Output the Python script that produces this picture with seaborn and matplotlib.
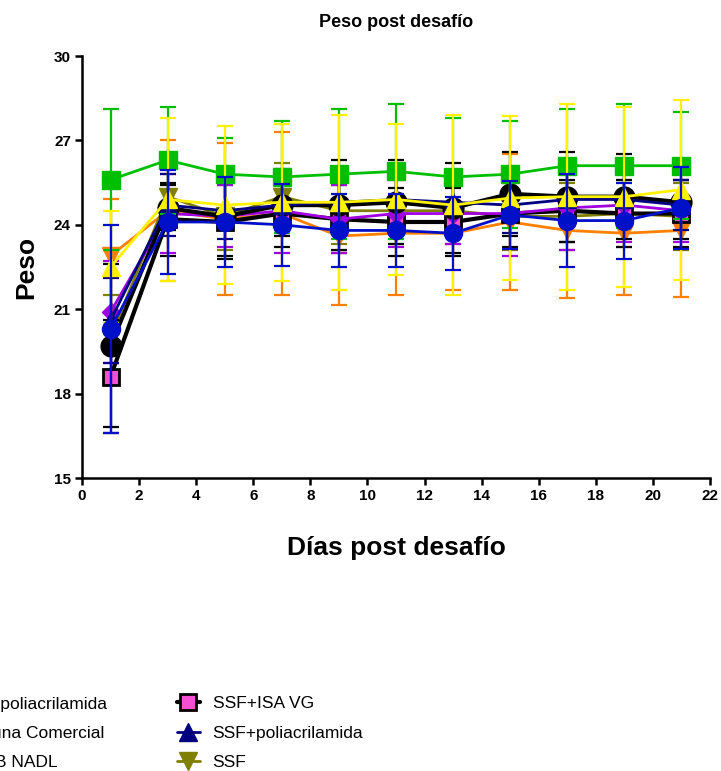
import numpy as np
import pandas as pd
import seaborn as sns
import matplotlib
matplotlib.use("Agg")
import matplotlib.pyplot as plt

sns.set_theme(style="ticks")
plt.rcParams['font.family'] = ['Liberation Sans', 'DejaVu Sans']
plt.rcParams['text.color'] = 'black'
plt.rcParams['axes.labelcolor'] = 'black'
plt.rcParams['xtick.color'] = 'black'
plt.rcParams['ytick.color'] = 'black'

# ---------------- data ----------------
days = [1, 3, 5, 7, 9, 11, 13, 15, 17, 19, 21]

labels = ["ISA+poliacrilamida", "Vacuna Comercial", "ISA B NADL", "ISA VG", "Control",
          "SSF+ISA VG", "SSF+poliacrilamida", "SSF", "Sin desafío"]

green_mean = [25.6, 26.3, 25.8, 25.7, 25.8, 25.9, 25.7, 25.8, 26.1, 26.1, 26.1]
green_sd = [2.5, 1.9, 1.3, 2.0, 2.3, 2.4, 2.1, 1.9, 2.0, 2.2, 1.9]

yellow_mean = [22.5, 24.9, 24.7, 24.8, 24.8, 24.9, 24.7, 24.95, 25.0, 25.0, 25.25]
yellow_sd = [2.0, 2.9, 2.8, 2.8, 3.1, 2.7, 3.2, 2.9, 3.3, 3.2, 3.2]

orange_mean = [22.9, 24.5, 24.2, 24.4, 23.6, 23.7, 23.7, 24.1, 23.8, 23.7, 23.8]
orange_sd = [2.0, 2.5, 2.7, 2.9, 2.45, 2.2, 2.0, 2.4, 2.4, 2.2, 2.35]

purple_mean = [20.9, 24.4, 24.3, 24.5, 24.2, 24.4, 24.4, 24.4, 24.6, 24.7, 24.5]
purple_sd = [1.8, 1.4, 1.1, 1.5, 1.2, 1.2, 1.1, 1.5, 1.5, 1.3, 1.1]

blue_mean = [20.3, 24.1, 24.1, 24.0, 23.8, 23.8, 23.7, 24.35, 24.15, 24.15, 24.6]
blue_sd = [3.7, 1.85, 1.6, 1.45, 1.3, 1.3, 1.3, 1.2, 1.65, 1.35, 1.45]

pink_mean = [18.6, 24.2, 24.1, 24.4, 24.2, 24.1, 24.1, 24.4, 24.5, 24.4, 24.4]
pink_sd = [2.0, 1.3, 1.3, 1.2, 1.2, 1.2, 1.2, 1.2, 1.1, 1.2, 1.2]

navy_mean = [20.6, 24.7, 24.5, 24.7, 24.8, 24.9, 24.8, 24.7, 24.9, 24.9, 24.7]
navy_sd = [1.5, 1.1, 1.0, 1.0, 1.0, 1.0, 1.0, 1.0, 0.9, 0.9, 0.9]

olive_mean = [20.0, 25.0, 24.3, 25.0, 24.5, 24.5, 24.5, 24.3, 24.3, 24.4, 24.3]
olive_sd = [1.5, 1.2, 1.2, 1.2, 1.2, 1.2, 1.2, 1.2, 1.2, 1.2, 1.2]

black_mean = [19.7, 24.6, 24.3, 24.7, 24.7, 24.8, 24.6, 25.1, 25.0, 25.0, 24.8]
black_sd = [2.9, 0.8, 1.4, 1.1, 1.6, 1.5, 1.6, 1.5, 1.6, 1.5, 1.3]

means = [green_mean, yellow_mean, orange_mean, purple_mean, blue_mean,
         pink_mean, navy_mean, olive_mean, black_mean]
sds = [green_sd, yellow_sd, orange_sd, purple_sd, blue_sd,
       pink_sd, navy_sd, olive_sd, black_sd]

# ---------------- styles ----------------
styles = [
    dict(color="#00BF00", marker="s", ms=13, mfc="#00BF00", mec="#00BF00", ecol="#00BF00", lw=2.0, z=7),
    dict(color="#FFF200", marker="^", ms=13, mfc="#FFF200", mec="#FFF200", ecol="#FFF200", lw=2.0, z=8),
    dict(color="#FF7F00", marker="v", ms=13, mfc="#FF7F00", mec="#FF7F00", ecol="#FF7F00", lw=2.0, z=1),
    dict(color="#A000E0", marker="D", ms=9, mfc="#A000E0", mec="#A000E0", ecol="#A000E0", lw=2.0, z=4),
    dict(color="#0010C8", marker="o", ms=13, mfc="#0010C8", mec="#0010C8", ecol="#0010C8", lw=2.0, z=9),
    dict(color="black", marker="s", ms=12, mfc="#F550D2", mec="black", ecol="black", lw=3.0, z=3),
    dict(color="#000080", marker="^", ms=13, mfc="#000080", mec="#000080", ecol="#000080", lw=2.0, z=6),
    dict(color="#808000", marker="v", ms=13, mfc="#808000", mec="#808000", ecol="#808000", lw=2.0, z=2),
    dict(color="black", marker="o", ms=15, mfc="black", mec="black", ecol="black", lw=3.0, z=5),
]

W, H = 721, 771
fig = plt.figure(figsize=(W / 100, H / 100), dpi=100)
ax = fig.add_axes([82 / W, (H - 478) / H, (710 - 82) / W, (478 - 56) / H])

handles = []
for lab, m, s, st in zip(labels, means, sds, styles):
    ax.errorbar(days, m, yerr=s, fmt="none", ecolor=st["ecol"], elinewidth=1.6,
                capsize=6, capthick=1.6, zorder=st["z"])
    df = pd.DataFrame({"Día": days, "Peso": m})
    sns.lineplot(data=df, x="Día", y="Peso", ax=ax, color=st["color"],
                 marker=st["marker"], markersize=st["ms"], markerfacecolor=st["mfc"],
                 markeredgecolor=st["mec"], markeredgewidth=2 if st["mec"] == "black" and st["mfc"] != "black" else 1,
                 linewidth=st["lw"], label=lab, legend=False, zorder=st["z"] + 0.5)
    handles.append(ax.lines[-1])

ax.set_xlim(0, 22)
ax.set_ylim(15, 30)
ax.set_xticks(range(0, 23, 2))
ax.set_yticks(range(15, 31, 3))
sns.despine(ax=ax)
for sp in ["left", "bottom"]:
    ax.spines[sp].set_linewidth(1.8)
    ax.spines[sp].set_color("black")
ax.tick_params(axis="both", direction="out", length=5, width=1.8, color="black",
               labelcolor="black", labelsize=11, pad=3)
for t in ax.get_xticklabels() + ax.get_yticklabels():
    t.set_fontweight("bold")

ax.set_xlabel("Días post desafío", fontsize=19, fontweight="bold", labelpad=24, color="black")
ax.set_ylabel("Peso", fontsize=19, fontweight="bold", labelpad=11, color="black")
ax.set_title("Peso post desafío", fontsize=13, fontweight="bold", pad=21, color="black")

leg = fig.legend(handles=handles, labels=labels, ncol=2, loc="upper left",
                 bbox_to_anchor=(0, 0), bbox_transform=fig.transFigure,
                 frameon=False, fontsize=12.5, handlelength=1.3, handletextpad=0.75,
                 columnspacing=4.0, labelspacing=0.82, borderpad=0, borderaxespad=0)
for t in leg.get_texts():
    t.set_color("black")
fig.canvas.draw()
r = fig.canvas.get_renderer()
bb = leg.get_texts()[5].get_window_extent(r)
dx = 212.6 - bb.x0
dy = (H - 704) - (bb.y0 + bb.y1) / 2
leg.set_bbox_to_anchor((dx / W, dy / H), transform=fig.transFigure)

fig.savefig("out.png", dpi=100)
